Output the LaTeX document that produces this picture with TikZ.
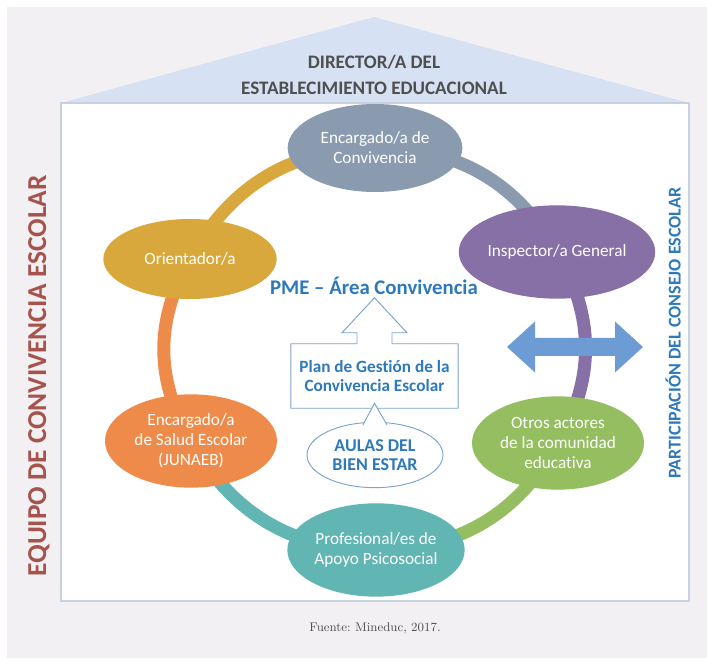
\documentclass[tikz,border=0pt]{standalone}
\usepackage{fontspec}
\usetikzlibrary{positioning,calc,backgrounds,shapes.geometric}
\newfontfamily\carlito[Ligatures=NoCommon]{Carlito}
\frenchspacing
\definecolor{bggrey}{HTML}{F3F0F3}
\definecolor{roofblue}{HTML}{D6E2F3}
\definecolor{boxline}{HTML}{C9D0E0}
\definecolor{titlegrey}{HTML}{4F4F4F}
\definecolor{convgrey}{HTML}{8A9BB0}
\definecolor{insppurple}{HTML}{8670A5}
\definecolor{oriegold}{HTML}{D9A83C}
\definecolor{saludorange}{HTML}{EF8B4A}
\definecolor{otrosgreen}{HTML}{94BE5F}
\definecolor{profteal}{HTML}{61B6B4}
\definecolor{arrowblue}{HTML}{6D9BD3}
\definecolor{planblue}{HTML}{2E78BC}
\definecolor{planline}{HTML}{7BA3CF}
\definecolor{equipored}{HTML}{A5534C}
\definecolor{captiongrey}{HTML}{505050}

\begin{document}
\begin{tikzpicture}[x=0.75pt,y=0.75pt,
    actor/.style={ellipse, inner sep=0pt, text=white, align=center, font=\carlito\fontsize{12.9}{15}\selectfont},
    ring/.style={line width=9.75pt},
    outline/.style={draw=planline, line width=0.7pt},
    bluebold/.style={text=planblue, align=center, font=\carlito\bfseries\fontsize{#1}{14.5}\selectfont}]
    \useasboundingbox (0,0) rectangle (714,664);
    \begin{scope}[on background layer]
        \fill[bggrey] (7,6) rectangle (707,657);
        \fill[roofblue] (61,561) -- (374,647) -- (689,561) -- cycle;
        \draw[boxline, fill=white, line width=0.8pt] (61,63) rectangle (689,561);
    \end{scope}
    \node[text=titlegrey, align=center, font=\carlito\bfseries\fontsize{14.3}{19.5}\selectfont] (director) at (374,589) {DIRECTOR/A DEL\\ESTABLECIMIENTO EDUCACIONAL};
    \node[rotate=90, text=equipored, font=\carlito\bfseries\fontsize{20.5}{22}\selectfont] (equipo) at (39,288) {EQUIPO DE CONVIVENCIA ESCOLAR};
    \node[rotate=90, text=planblue, font=\carlito\bfseries\fontsize{13.5}{15}\selectfont] (consejo) at (673,331) {PARTICIPACIÓN DEL CONSEJO ESCOLAR};

    \node[actor, fill=convgrey, minimum width=131pt, minimum height=66pt] (conv) at (375,516) {Encargado/a de\\Convivencia};
    \node[actor, fill=insppurple, minimum width=128pt, minimum height=70pt] (insp) at (557,412) {Inspector/a General};
    \node[actor, fill=otrosgreen, minimum width=129pt, minimum height=70pt] (otros) at (558,221) {Otros actores\\de la comunidad\\educativa};
    \node[actor, fill=profteal, minimum width=133pt, minimum height=70pt] (prof) at (376,114) {Profesional/es de\\Apoyo Psicosocial};
    \node[actor, fill=saludorange, minimum width=129pt, minimum height=70pt] (salud) at (191,223) {Encargado/a\\de Salud Escolar\\(JUNAEB)};
    \node[actor, fill=oriegold, minimum width=130pt, minimum height=60pt] (orie) at (190,405) {Orientador/a};
    \begin{scope}[on background layer]
        \draw[ring, convgrey] (conv.center) to[bend left=30] (insp.center);
        \draw[ring, insppurple] (insp.center) to[bend left=30] (otros.center);
        \draw[ring, otrosgreen] (otros.center) to[bend left=30] (prof.center);
        \draw[ring, profteal] (prof.center) to[bend left=30] (salud.center);
        \draw[ring, saludorange] (salud.center) to[bend left=30] (orie.center);
        \draw[ring, oriegold] (orie.center) to[bend left=30] (conv.center);
    \end{scope}

    \coordinate (dbl) at (575,317);
    \fill[arrowblue] (dbl) ++(-68,0) -- ++(28,25.5) -- ++(0,-16.5) -- ++(80,0) -- ++(0,16.5) -- ++(28,-25.5)
        -- ++(-28,-25.5) -- ++(0,16.5) -- ++(-80,0) -- ++(0,-16.5) -- cycle;

    \node[bluebold=15.6] (pme) at (374,378) {PME – Área Convivencia};
    \node[bluebold=12.9, minimum width=125pt, minimum height=48pt, inner sep=0pt] (plan) at (374.5,288) {Plan de Gestión de la\\Convivencia Escolar};
    \draw[outline] ($(plan.north)+(-17.5,0)$) -- (plan.north west) -- (plan.south west) -- (plan.south east) -- (plan.north east)
        -- ($(plan.north)+(17.5,0)$) -- ++(0,11) -- ++(15,0) -- ($(plan.north)+(0,46)$) -- ($(plan.north)+(-32.5,11)$) -- ++(15,0) -- cycle;
    \node[ellipse, outline, fill=white, bluebold=13.5, minimum width=102pt, minimum height=49pt, inner sep=0pt] (aulas) at (375,209) {AULAS DEL\\BIEN ESTAR};
    \draw[outline, fill=white] ($(aulas.north)+(-12,-3)$) -- ($(plan.south)+(0,5)$) -- ($(aulas.north)+(12,-3)$);

    \node[text=captiongrey, font=\fontsize{9.4}{11}\selectfont] (fuente) at (375,36) {Fuente: Mineduc, 2017.};
\end{tikzpicture}
\end{document}
